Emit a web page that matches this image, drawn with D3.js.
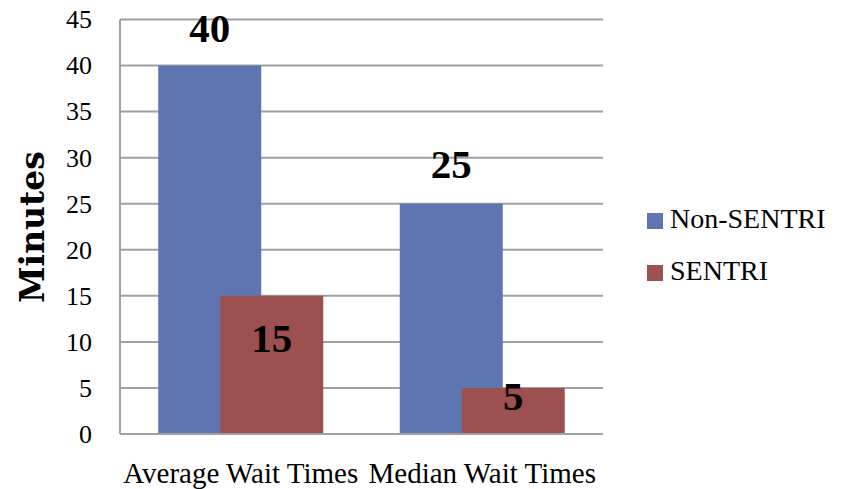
<!DOCTYPE html>
<html><head><meta charset="utf-8">
<script src="https://cdn.jsdelivr.net/npm/d3@7"></script>
<style>body{margin:0;background:#fff}svg{display:block}</style>
</head><body>
<script>
const categories = ["Average Wait Times", "Median Wait Times"];
const seriesNames = ["Non-SENTRI", "SENTRI"];
const nonSentri = [40, 25];
const sentri = [15, 5];
const yTicks = [0, 5, 10, 15, 20, 25, 30, 35, 40, 45];
const colors = ["#5F75B2", "#9C5150"];
// label vertical offsets (px, relative to bar top) per series/category
const labelOffsets = [[-24, -26], [56, 22]];

const W = 844, H = 489;
const svg = d3.select("body").append("svg").attr("width", W).attr("height", H);
const serif = "'Liberation Serif', 'Times New Roman', serif";

const y = d3.scaleLinear().domain([0, 45]).range([434, 19.5]);
const x = d3.scaleBand().domain(categories).range([120, 603]).padding(0);
const bw = x.bandwidth();
const barW = bw * 0.4265;
const shift = bw * 0.1284;

// gridlines
svg.append("g").selectAll("line").data(yTicks).join("line")
  .attr("x1", 120).attr("x2", 603)
  .attr("y1", d => y(d)).attr("y2", d => y(d))
  .attr("stroke", "#a0a0a0").attr("stroke-width", 2);
svg.append("line").attr("x1", 120).attr("x2", 120).attr("y1", y(45)).attr("y2", y(0))
  .attr("stroke", "#a0a0a0").attr("stroke-width", 2);

// tick labels
svg.append("g").selectAll("text").data(yTicks).join("text")
  .attr("x", 92).attr("y", d => y(d)).attr("dy", "0.34em")
  .attr("text-anchor", "end").attr("font-family", serif).attr("font-size", 26)
  .attr("fill", "#000").text(d => d);

const series = [nonSentri, sentri];
series.forEach((vals, si) => {
  const g = svg.append("g");
  g.selectAll("rect").data(categories).join("rect")
    .attr("x", c => x(c) + bw / 2 + (si === 0 ? -shift : shift) - barW / 2)
    .attr("width", barW)
    .attr("y", (c, i) => y(vals[i]))
    .attr("height", (c, i) => y(0) - y(vals[i]))
    .attr("fill", colors[si]);
});
series.forEach((vals, si) => {
  svg.append("g").selectAll("text").data(categories).join("text")
    .attr("x", c => x(c) + bw / 2 + (si === 0 ? -shift : shift))
    .attr("y", (c, i) => y(vals[i]) + labelOffsets[si][i])
    .attr("text-anchor", "middle").attr("font-family", serif)
    .attr("font-weight", "bold").attr("font-size", 41).attr("fill", "#000")
    .text((c, i) => vals[i]);
});

// baseline redraw
svg.append("line").attr("x1", 120).attr("x2", 603).attr("y1", y(0)).attr("y2", y(0))
  .attr("stroke", "#a0a0a0").attr("stroke-width", 2);

// category labels
svg.append("g").selectAll("text").data(categories).join("text")
  .attr("x", c => x(c) + bw / 2).attr("y", 483)
  .attr("text-anchor", "middle").attr("font-family", serif).attr("font-size", 29)
  .attr("fill", "#000").text(c => c);

// y title
svg.append("text").attr("transform", "translate(44,227) rotate(-90)")
  .attr("text-anchor", "middle").attr("font-family", "'DejaVu Serif', serif")
  .attr("font-weight", "bold").attr("font-size", 33).attr("fill", "#000").text("Minutes");

// legend
const leg = svg.append("g").selectAll("g").data(seriesNames).join("g")
  .attr("transform", (d, i) => `translate(647,${213 + i * 52})`);
leg.append("rect").attr("width", 16).attr("height", 16).attr("fill", (d, i) => colors[i]);
leg.append("text").attr("x", 23).attr("y", 15).attr("font-family", serif)
  .attr("font-size", 28).attr("fill", "#000").text(d => d);
</script>
</body></html>
